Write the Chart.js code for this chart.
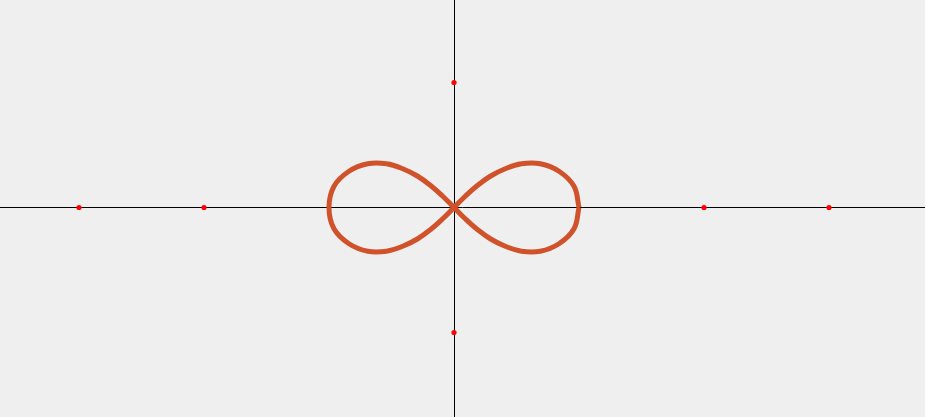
<!DOCTYPE html>
<html>
<head>
<meta charset="utf-8">
<script src="https://cdn.jsdelivr.net/npm/chart.js@4/dist/chart.umd.min.js"></script>
<style>
  html, body { margin: 0; padding: 0; background: #efefef; }
  #wrap { width: 925px; height: 417px; }
</style>
</head>
<body>
<div id="wrap"><canvas id="curveChart" width="925" height="417"></canvas></div>
<script>
var curveX = [1.00, 0.96, 0.84, 0.69, 0.54, 0.41, 0.29, 0.18, 0.09, 0.00,
  -0.09, -0.18, -0.29, -0.41, -0.54, -0.69, -0.84, -0.96, -1.00,
  -0.96, -0.84, -0.69, -0.54, -0.41, -0.29, -0.18, -0.09, 0.00,
  0.09, 0.18, 0.29, 0.41, 0.54, 0.69, 0.84, 0.96, 1.00];
var curveY = [0.00, 0.17, 0.29, 0.35, 0.35, 0.31, 0.25, 0.17, 0.09, 0.00,
  -0.09, -0.17, -0.25, -0.31, -0.35, -0.35, -0.29, -0.17, 0.00,
  0.17, 0.29, 0.35, 0.35, 0.31, 0.25, 0.17, 0.09, 0.00,
  -0.09, -0.17, -0.25, -0.31, -0.35, -0.35, -0.29, -0.17, 0.00];

// red tick marks on the axes
var xTicks = [-3, -2, 2, 3];
var yTicks = [1, -1];

var curvePoints = [];
for (var i = 0; i < curveX.length; i++) {
  curvePoints.push({ x: curveX[i], y: curveY[i] });
}
var tickPoints = [];
xTicks.forEach(function(v) { tickPoints.push({ x: v, y: 0 }); });
yTicks.forEach(function(v) { tickPoints.push({ x: 0, y: v }); });

function zeroLine(ctx) {
  return ctx.tick && ctx.tick.value === 0 ? '#000000' : 'rgba(0,0,0,0)';
}

var chartContainer = document.getElementById("curveChart").getContext('2d');
var curveChart = new Chart(chartContainer, {
  type: 'scatter',
  data: {
    datasets: [{
        label: "ticks",
        data: tickPoints,
        backgroundColor: '#ff0000',
        borderWidth: 0,
        pointRadius: 2.6,
        hoverRadius: 0
      },
      {
        label: "curve",
        data: curvePoints,
        showLine: true,
        tension: 0.4,
        borderColor: '#d0522b',
        borderWidth: 5,
        pointRadius: 0,
        hoverRadius: 0,
        fill: false
      }
    ]
  },
  options: {
    responsive: false,
    animation: false,
    layout: { padding: 0, autoPadding: false },
    plugins: { legend: { display: false }, tooltip: { enabled: false } },
    scales: {
      x: {
        type: 'linear',
        min: -3.632,
        max: 3.768,
        ticks: { display: false, stepSize: 1 },
        border: { display: false },
        grid: { drawTicks: false, color: zeroLine, lineWidth: 1 }
      },
      y: {
        type: 'linear',
        min: -1.676,
        max: 1.66,
        ticks: { display: false, stepSize: 1 },
        border: { display: false },
        grid: { drawTicks: false, color: zeroLine, lineWidth: 1 }
      }
    }
  }
});
</script>
</body>
</html>
